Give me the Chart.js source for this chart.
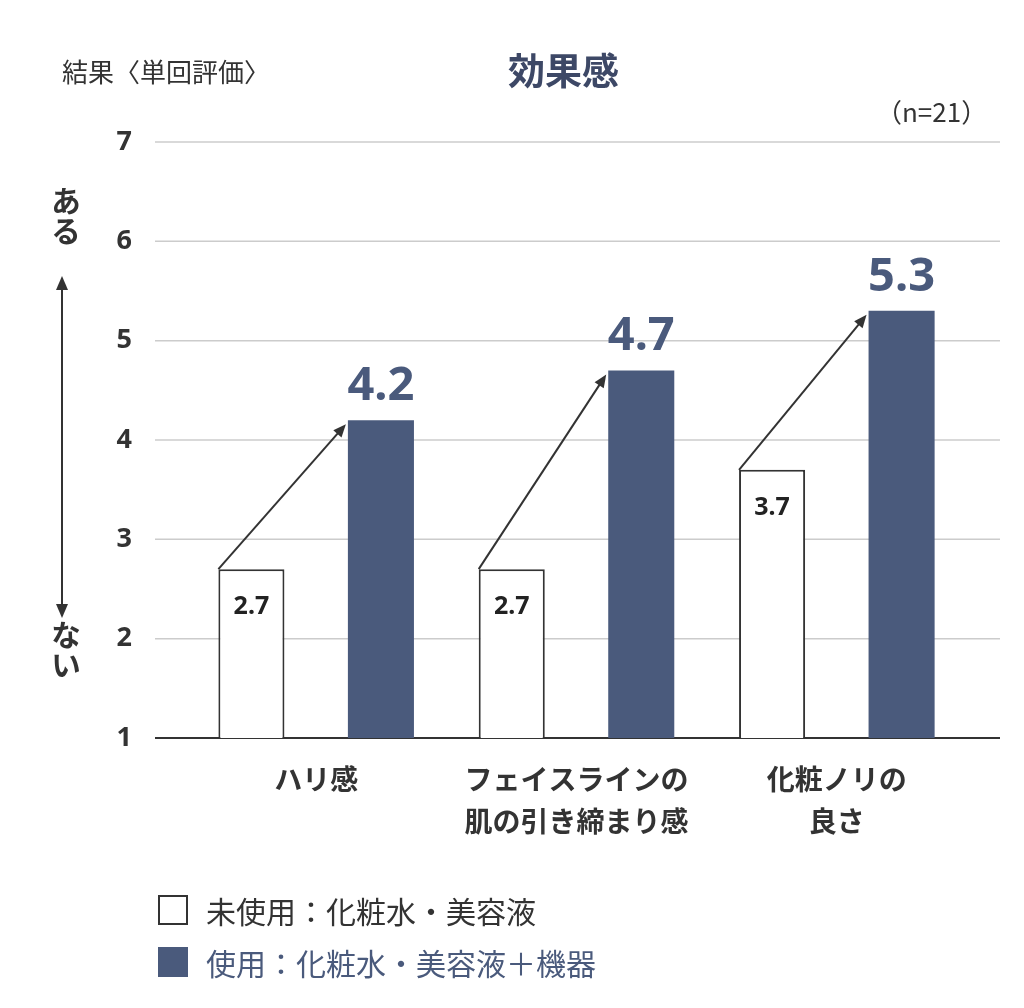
<!DOCTYPE html>
<html><head><meta charset="utf-8">
<script src="https://cdn.jsdelivr.net/npm/chart.js@4/dist/chart.umd.min.js"></script>
<style>
body{margin:0;background:#fff;font-family:"Noto Sans CJK JP",sans-serif;color:#333}
#wrap{position:relative;width:1024px;height:1008px}
.t{position:absolute;white-space:nowrap}
.lg{position:absolute;left:158px;font-size:30px;display:flex;align-items:center}
.sw{width:30px;height:30px;box-sizing:border-box;margin-right:18px}
</style></head><body>
<div id="wrap">
<canvas id="c" width="1024" height="1008"></canvas>
<div class="t" style="left:62px;top:52px;font-size:26px">結果〈単回評価〉</div>
<div class="t" style="left:508px;top:42px;font-size:37px;font-weight:bold;color:#3d4866">効果感</div>
<div class="t" style="left:876px;top:92px;font-size:26px">（n=21）</div>
<div class="t" style="left:44px;top:186px;font-size:30px;font-weight:bold;writing-mode:vertical-rl">ある</div>
<div class="t" style="left:44px;top:620px;font-size:30px;font-weight:bold;writing-mode:vertical-rl">ない</div>
<div class="lg" style="top:888px"><div class="sw" style="border:2px solid #333;background:#fff"></div>未使用：化粧水・美容液</div>
<div class="lg" style="top:940px;color:#4a5a7c"><div class="sw" style="background:#4a5a7c"></div>使用：化粧水・美容液＋機器</div>
</div>
<script>
const categories = [["ハリ感"], ["フェイスラインの", "肌の引き締まり感"], ["化粧ノリの", "良さ"]];
const unusedValues = [2.7, 2.7, 3.7];
const usedValues = [4.2, 4.7, 5.3];
const navy = "#4a5a7c";

const extras = {
  id: "extras",
  beforeDatasetsDraw(chart) {
    const ctx = chart.ctx, y = chart.scales.y;
    ctx.save();
    for (let v = 1; v <= 7; v++) {
      const py = y.getPixelForValue(v);
      ctx.strokeStyle = v === 1 ? "#333" : "#ccc";
      ctx.lineWidth = v === 1 ? 2 : 1.5;
      ctx.beginPath(); ctx.moveTo(155, py); ctx.lineTo(1000, py); ctx.stroke();
    }
    // vertical arrow on the left
    ctx.strokeStyle = "#333"; ctx.fillStyle = "#333"; ctx.lineWidth = 2;
    ctx.beginPath(); ctx.moveTo(62, 285); ctx.lineTo(62, 610); ctx.stroke();
    ctx.beginPath(); ctx.moveTo(62, 276); ctx.lineTo(56, 290); ctx.lineTo(68, 290); ctx.fill();
    ctx.beginPath(); ctx.moveTo(62, 618); ctx.lineTo(56, 604); ctx.lineTo(68, 604); ctx.fill();
    ctx.restore();
  },
  afterDatasetsDraw(chart) {
    const ctx = chart.ctx;
    const a = chart.getDatasetMeta(0).data, b = chart.getDatasetMeta(1).data;
    ctx.save();
    a.forEach((bar, i) => {
      const w = bar.width / 2;
      ctx.fillStyle = "#222"; ctx.font = "bold 25px 'Noto Sans'"; ctx.textAlign = "center"; ctx.textBaseline = "middle";
      ctx.fillText(unusedValues[i].toFixed(1), bar.x, bar.y + 38);
      const nb = b[i];
      ctx.fillStyle = navy; ctx.font = "bold 47px 'Noto Sans'"; ctx.textBaseline = "alphabetic";
      ctx.fillText(usedValues[i].toFixed(1), nb.x, nb.y - 20);
      // arrow
      const x1 = bar.x - w, y1 = bar.y, x2 = nb.x - nb.width / 2 - 2, y2 = nb.y + 4;
      const ang = Math.atan2(y2 - y1, x2 - x1);
      ctx.strokeStyle = "#333"; ctx.fillStyle = "#333"; ctx.lineWidth = 2;
      ctx.beginPath(); ctx.moveTo(x1, y1); ctx.lineTo(x2 - 10 * Math.cos(ang), y2 - 10 * Math.sin(ang)); ctx.stroke();
      ctx.beginPath(); ctx.moveTo(x2, y2);
      ctx.lineTo(x2 - 14 * Math.cos(ang - 0.4), y2 - 14 * Math.sin(ang - 0.4));
      ctx.lineTo(x2 - 14 * Math.cos(ang + 0.4), y2 - 14 * Math.sin(ang + 0.4));
      ctx.fill();
    });
    ctx.restore();
  }
};

new Chart(document.getElementById("c"), {
  type: "bar",
  data: {
    labels: categories,
    datasets: [
      { data: unusedValues, backgroundColor: "#fff", borderColor: "#333", borderWidth: 2, borderSkipped: "bottom" },
      { data: usedValues, backgroundColor: navy }
    ]
  },
  options: {
    responsive: false,
    animation: false,
    layout: { padding: { top: 142, right: 57, left: 0, bottom: 0 } },
    plugins: { legend: { display: false }, tooltip: { enabled: false } },
    datasets: { bar: { barPercentage: 0.51, categoryPercentage: 0.995 } },
    scales: {
      x: {
        grid: { display: false }, border: { display: false },
        ticks: { color: "#333", font: { size: 28, weight: "bold", family: "'Noto Sans CJK JP'", lineHeight: 1.5 }, padding: 12, maxRotation: 0 },
        afterFit(s) { s.height = 270; }
      },
      y: {
        min: 1, max: 7,
        grid: { display: false }, border: { display: false },
        ticks: { stepSize: 1, color: "#333", font: { size: 27, weight: "bold", family: "'Noto Sans'" }, padding: 46 },
        afterFit(s) { s.width = 186; }
      }
    }
  },
  plugins: [extras]
});
</script>
</body></html>
